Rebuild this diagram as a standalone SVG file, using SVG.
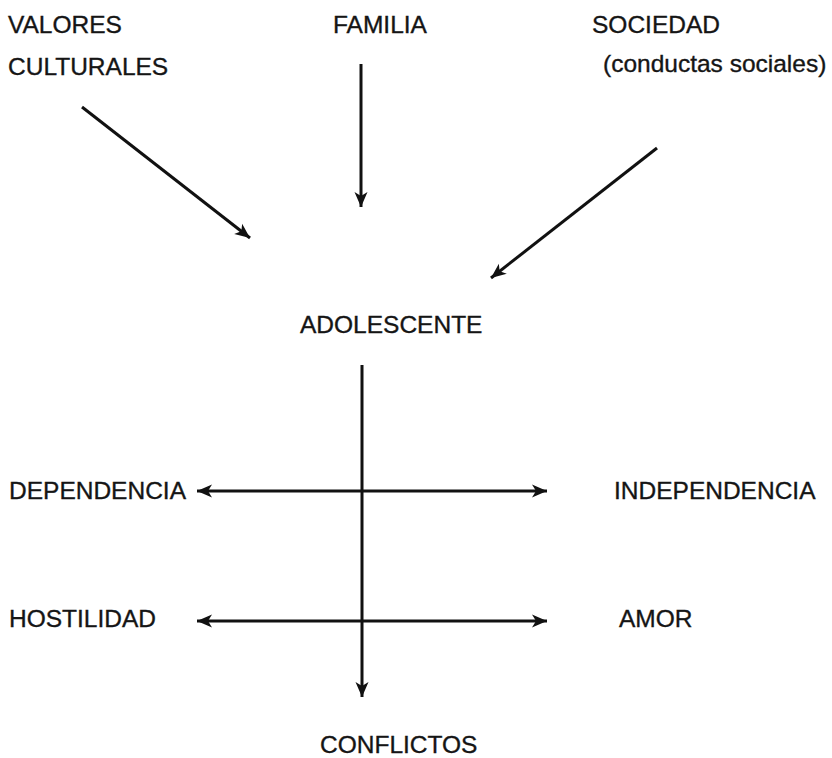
<svg xmlns="http://www.w3.org/2000/svg" width="832" height="758" viewBox="0 0 832 758">
  <style>
    .t { font-family: "Liberation Sans", Arial, sans-serif; font-size: 24.5px; fill: #151515; stroke: #151515; stroke-width: 0.35px; }
    .c { stroke: #111; stroke-width: 3; fill: none; }
  </style>
  <defs>
    <marker id="ah" markerUnits="userSpaceOnUse" markerWidth="17" markerHeight="14" refX="15" refY="6.5" orient="auto-start-reverse" viewBox="0 0 17 13">
      <path d="M0,0 L15,6.5 L0,13 L4,6.5 z" fill="#111"/>
    </marker>
  </defs>
  <rect width="832" height="758" fill="#ffffff"/>
  <g id="valores"><text class="t" x="8" y="33">VALORES</text><text class="t" x="8" y="75">CULTURALES</text></g>
  <g id="familia"><text class="t" x="333" y="33">FAMILIA</text></g>
  <g id="sociedad"><text class="t" x="592" y="33">SOCIEDAD</text><text class="t" x="603" y="72">(conductas sociales)</text></g>
  <g id="adolescente"><text class="t" x="300" y="333">ADOLESCENTE</text></g>
  <g id="dependencia"><text class="t" x="9" y="499">DEPENDENCIA</text></g>
  <g id="independencia"><text class="t" x="614" y="499">INDEPENDENCIA</text></g>
  <g id="hostilidad"><text class="t" x="9" y="627">HOSTILIDAD</text></g>
  <g id="amor"><text class="t" x="619" y="627">AMOR</text></g>
  <g id="conflictos"><text class="t" x="320" y="753">CONFLICTOS</text></g>
  <g id="connectors">
    <line class="c" x1="82" y1="107" x2="250" y2="238" marker-end="url(#ah)"/>
    <line class="c" x1="361" y1="64" x2="361" y2="207" marker-end="url(#ah)"/>
    <line class="c" x1="657" y1="148" x2="491" y2="278" marker-end="url(#ah)"/>
    <line class="c" x1="362" y1="365" x2="362" y2="697" marker-end="url(#ah)"/>
    <line class="c" x1="197" y1="491" x2="547" y2="491" marker-start="url(#ah)" marker-end="url(#ah)"/>
    <line class="c" x1="197" y1="621" x2="547" y2="621" marker-start="url(#ah)" marker-end="url(#ah)"/>
  </g>
</svg>
